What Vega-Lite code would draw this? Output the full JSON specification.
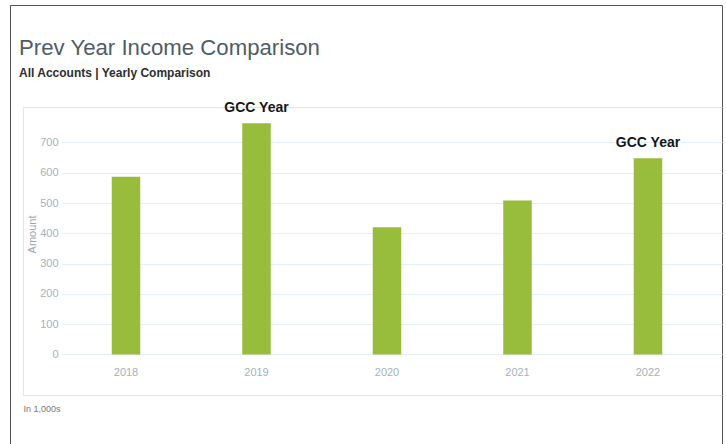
{
  "$schema": "https://vega.github.io/schema/vega-lite/v6.json",
  "autosize": {"type": "none"},
  "padding": {"left": 10, "top": 5, "right": 4, "bottom": 0},
  "width": 712,
  "height": 439,
  "background": "white",
  "title": {
    "text": "Prev Year Income Comparison",
    "subtitle": "All Accounts | Yearly Comparison",
    "anchor": "start",
    "frame": "group",
    "offset": -74,
    "dx": 9,
    "font": "Liberation Sans",
    "fontSize": 22.2,
    "fontWeight": "normal",
    "color": "#505d66",
    "subtitleFont": "Liberation Sans",
    "subtitleFontSize": 12,
    "subtitleFontWeight": "bold",
    "subtitleColor": "#2e2e2e",
    "subtitlePadding": 9
  },
  "data": {
    "values": [
      {"year": "2018", "amount": 587, "note": ""},
      {"year": "2019", "amount": 763, "note": "GCC Year"},
      {"year": "2020", "amount": 420, "note": ""},
      {"year": "2021", "amount": 508, "note": ""},
      {"year": "2022", "amount": 648, "note": "GCC Year"}
    ]
  },
  "layer": [
    {
      "mark": {"type": "bar", "color": "#98bc3c"},
      "encoding": {
        "x": {
          "field": "year",
          "type": "ordinal",
          "scale": {"range": [13, 712], "paddingInner": 0.7816, "paddingOuter": 0.569, "align": 0.5976},
          "axis": {
            "orient": "bottom",
            "offset": -49,
            "domain": true,
            "domainColor": "#d6e6f2",
            "ticks": false,
            "grid": false,
            "labelPadding": -23,
            "labelBaseline": "middle",
            "labelAngle": 0,
            "labelColor": "#a6b1ba",
            "labelFont": "Liberation Sans",
            "labelFontSize": 11,
            "title": "In 1,000s",
            "titleX": 13,
            "titleY": 13,
            "titleAlign": "left",
            "titleBaseline": "middle",
            "titleFont": "Liberation Sans",
            "titleFontSize": 9,
            "titleFontWeight": "normal",
            "titleColor": "#777777"
          }
        },
        "y": {
          "field": "amount",
          "type": "quantitative",
          "scale": {"domain": [-134, 817], "range": [390, 102], "nice": false, "zero": false},
          "axis": {
            "orient": "left",
            "offset": -13,
            "values": [0, 100, 200, 300, 400, 500, 600, 700],
            "domain": true,
            "domainColor": "#d6e6f2",
            "ticks": false,
            "grid": false,
            "labelPadding": -35,
            "labelColor": "#a6b1ba",
            "labelFont": "Liberation Sans",
            "labelFontSize": 11,
            "title": "Amount",
            "titleX": 14,
            "titleY": 229,
            "titleAngle": 270,
            "titleBaseline": "bottom",
            "titleAlign": "center",
            "titleFont": "Liberation Sans",
            "titleFontSize": 11,
            "titleFontWeight": "normal",
            "titleColor": "#9ea6ad"
          }
        }
      }
    },
    {
      "mark": {"type": "text", "dy": -11, "baseline": "alphabetic", "align": "center", "font": "Liberation Sans", "fontSize": 14, "fontWeight": "bold", "color": "#161616"},
      "encoding": {
        "x": {
          "field": "year",
          "type": "ordinal",
          "axis": {"orient": "top", "offset": -102, "domain": true, "domainColor": "#d6e6f2", "labels": false, "ticks": false, "grid": false, "title": null}
        },
        "y": {
          "field": "amount",
          "type": "quantitative",
          "axis": {"orient": "right", "values": [0, 100, 200, 300, 400, 500, 600, 700], "domain": false, "labels": false, "ticks": true, "tickSize": -660, "tickColor": "#e4eef7", "tickWidth": 1, "grid": false, "title": null}
        },
        "text": {"field": "note"}
      }
    }
  ],
  "resolve": {"axis": {"x": "independent", "y": "independent"}},
  "config": {
    "view": {"stroke": "#555555", "strokeWidth": 1, "strokeDash": [1151, 712, 500]}
  }
}
